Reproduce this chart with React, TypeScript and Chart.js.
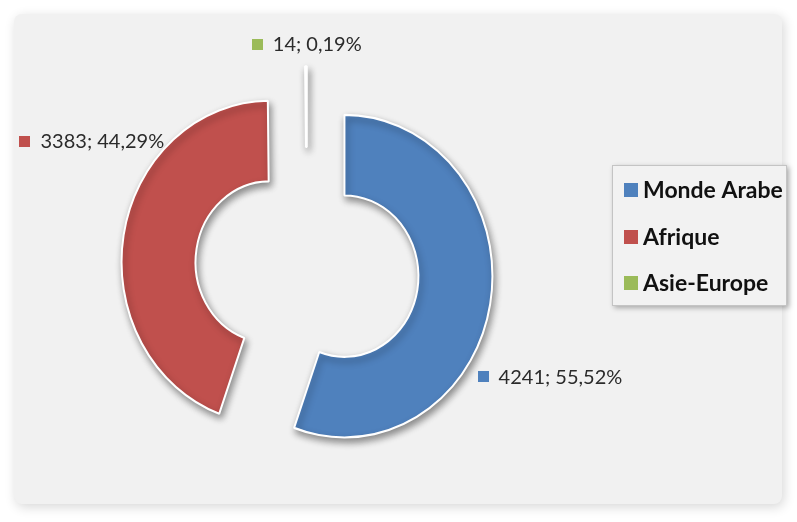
import React, { useEffect, useRef } from 'react';
import { Chart, registerables } from 'chart.js';

Chart.register(...registerables);

// ---- data ----
const categories = ['Monde Arabe', 'Afrique', 'Asie-Europe'];
const values = [4241, 3383, 14];
const percentLabels = ['55,52%', '44,29%', '0,19%'];
const colors = ['#4F81BD', '#C0504D', '#9BBB59'];

// ---- styling ----
const EXPLODE = 38;
const STRETCH_Y = 1.09; // the reference ring is slightly taller than wide
const labelPlacement = [
  { clockDeg: 124.7, gap: 14, align: 'left' },
  { clockDeg: 316.5, gap: 5, align: 'right' },
  { clockDeg: 0, gap: 20, align: 'center' },
];

const centerOf = (chart: any) => ({
  cx: (chart.chartArea.left + chart.chartArea.right) / 2,
  cy: (chart.chartArea.top + chart.chartArea.bottom) / 2,
});

const backgroundPlugin = {
  id: 'panelBg',
  beforeDraw(chart: any) {
    const ctx = chart.ctx as CanvasRenderingContext2D;
    ctx.save();
    ctx.fillStyle = '#ffffff';
    ctx.fillRect(0, 0, chart.width, chart.height);
    ctx.shadowColor = 'rgba(0,0,0,0.16)';
    ctx.shadowBlur = 12;
    ctx.shadowOffsetX = 2;
    ctx.shadowOffsetY = 3;
    ctx.fillStyle = '#f1f1f1';
    ctx.beginPath();
    (ctx as any).roundRect(14, 14, 768, 490, 8);
    ctx.fill();
    ctx.restore();
  },
};

const explodePlugin = {
  id: 'explode',
  afterUpdate(chart: any) {
    const meta = chart.getDatasetMeta(0);
    meta.data.forEach((arc: any) => {
      const half = (arc.startAngle + arc.endAngle) / 2;
      arc.x += Math.cos(half) * EXPLODE;
      arc.y += Math.sin(half) * EXPLODE;
    });
  },
};

const shadowPlugin = {
  id: 'arcShadow',
  beforeDatasetsDraw(chart: any) {
    const ctx = chart.ctx as CanvasRenderingContext2D;
    const { cy } = centerOf(chart);
    ctx.save();
    ctx.translate(0, cy);
    ctx.scale(1, STRETCH_Y);
    ctx.translate(0, -cy);
    ctx.shadowColor = 'rgba(0,0,0,0.42)';
    ctx.shadowBlur = 7;
    ctx.shadowOffsetX = 2;
    ctx.shadowOffsetY = 4;
  },
  afterDatasetsDraw(chart: any) {
    chart.ctx.restore();
  },
};

const labelPlugin = {
  id: 'sliceLabels',
  afterDraw(chart: any) {
    const ctx = chart.ctx as CanvasRenderingContext2D;
    const meta = chart.getDatasetMeta(0);
    const ds = chart.data.datasets[0];
    const { cy } = centerOf(chart);
    ctx.save();
    ctx.font = '20px Lato';
    ctx.textBaseline = 'alphabetic';
    const sq = 11;
    const sgap = 10;
    meta.data.forEach((arc: any, i: number) => {
      const p = labelPlacement[i];
      const a = ((p.clockDeg - 90) * Math.PI) / 180;
      const r = arc.outerRadius + p.gap;
      const ax = arc.x + Math.cos(a) * r;
      const ay = cy + (arc.y + Math.sin(a) * r - cy) * STRETCH_Y;
      const text = `${ds.data[i]}; ${percentLabels[i]}`;
      const tw = ctx.measureText(text).width;
      const total = sq + sgap + tw;
      let sx = ax;
      if (p.align === 'right') sx = ax - total;
      else if (p.align === 'center') sx = ax - total / 2;
      ctx.fillStyle = ds.backgroundColor[i];
      ctx.fillRect(Math.round(sx), Math.round(ay - sq / 2), sq, sq);
      ctx.fillStyle = '#2b2b2b';
      ctx.fillText(text, sx + sq + sgap, ay + 7);
    });
    ctx.restore();
  },
};

const legendPlugin = {
  id: 'boxLegend',
  afterDraw(chart: any) {
    const ctx = chart.ctx as CanvasRenderingContext2D;
    const ds = chart.data.datasets[0];
    const bx = 612, by = 165, bw = 175, bh = 141;
    ctx.save();
    ctx.shadowColor = 'rgba(0,0,0,0.3)';
    ctx.shadowBlur = 5;
    ctx.shadowOffsetX = 2;
    ctx.shadowOffsetY = 2;
    ctx.fillStyle = '#f2f2f2';
    ctx.fillRect(bx, by, bw, bh);
    ctx.shadowColor = 'transparent';
    ctx.strokeStyle = '#c4c4c4';
    ctx.lineWidth = 1;
    ctx.strokeRect(bx + 0.5, by + 0.5, bw - 1, bh - 1);
    ctx.font = 'bold 23px Lato';
    ctx.textBaseline = 'alphabetic';
    const labels: string[] = chart.data.labels;
    labels.forEach((lab, i) => {
      const cy = 190 + i * 46.5;
      ctx.fillStyle = ds.backgroundColor[i];
      ctx.fillRect(624, Math.round(cy - 7), 14, 14);
      ctx.fillStyle = '#111111';
      ctx.fillText(lab, 643, cy + 8);
    });
    ctx.restore();
  },
};

export default function App() {
  const ref = useRef<HTMLCanvasElement>(null);
  useEffect(() => {
    const canvas = ref.current!;
    const chart = new Chart(canvas, {
      type: 'doughnut',
      data: {
        labels: categories,
        datasets: [
          {
            data: values,
            backgroundColor: colors,
            borderColor: '#ffffff',
            borderWidth: 2,
          },
        ],
      },
      options: {
        responsive: false,
        animation: false,
        devicePixelRatio: 1,
        radius: 148,
        cutout: '50%',
        events: [],
        layout: { padding: { left: 0, right: 183, top: 16, bottom: 0 } },
        plugins: { legend: { display: false }, tooltip: { enabled: false } },
      } as any,
      plugins: [backgroundPlugin, explodePlugin, shadowPlugin, labelPlugin, legendPlugin],
    });
    return () => chart.destroy();
  }, []);
  return (
    <div style={{ position: 'fixed', left: 0, top: 0, width: 797, height: 522 }}>
      <canvas ref={ref} width={797} height={522} style={{ display: 'block' }} />
    </div>
  );
}
